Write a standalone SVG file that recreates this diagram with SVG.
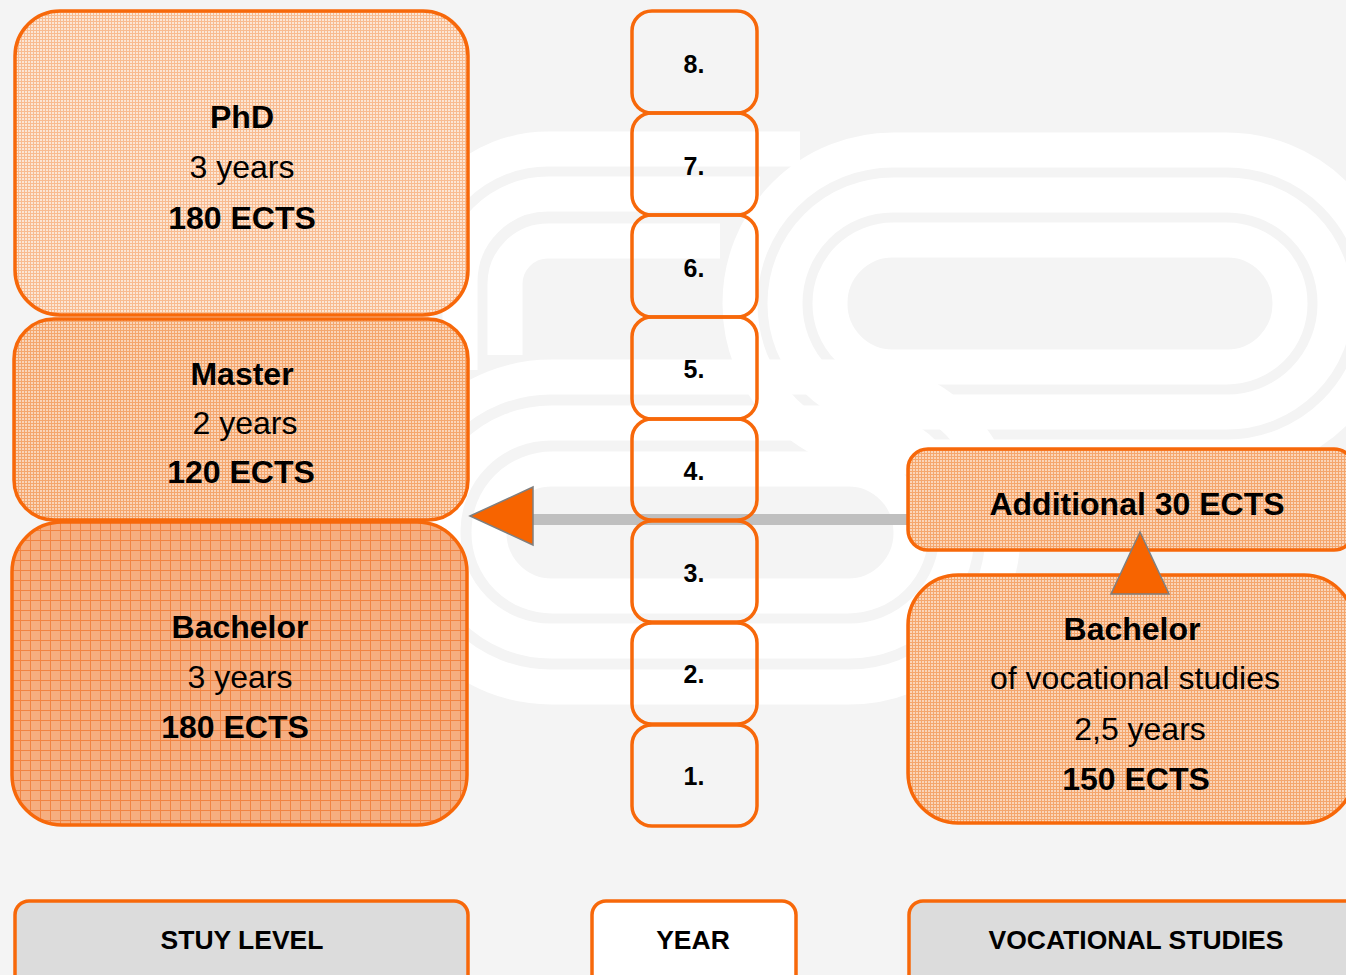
<svg xmlns="http://www.w3.org/2000/svg" width="1346" height="975" viewBox="0 0 1346 975">
<defs>
<style>
.wm{fill:none;stroke:#ffffff;stroke-width:35}
.box{stroke:#f7680a;stroke-width:3.5}
.yr{fill:none;stroke:#f7680a;stroke-width:3.5}
.t{font-family:"Liberation Sans",Arial,Helvetica,sans-serif;fill:#000;text-anchor:middle}
.b{font-weight:bold}
.big{font-size:32px}
.yl{font-size:25px;font-weight:bold}
.ft{font-size:26.5px;font-weight:bold}
.conn{stroke:#bfbfbf;stroke-width:11;fill:none}
.head{fill:#f76400;stroke:#7f7f7f;stroke-width:1.5;stroke-linejoin:miter}
</style>
<pattern id="pPhd" width="3" height="3" patternUnits="userSpaceOnUse"><rect width="3" height="3" fill="#fce4d2"/><path d="M0 0.5H3M0.5 0V3" stroke="#f8b585" stroke-width="1"/></pattern>
<pattern id="pMid" width="3" height="3" patternUnits="userSpaceOnUse"><rect width="3" height="3" fill="#fbd2b4"/><path d="M0 0.5H3M0.5 0V3" stroke="#f49f62" stroke-width="1"/></pattern>
<pattern id="pBach" width="10" height="10" patternUnits="userSpaceOnUse"><rect width="10" height="10" fill="#f6ae80"/><path d="M0 0.5H10M0.5 0V10" stroke="#f18443" stroke-width="1"/></pattern>
</defs>
<rect width="1346" height="975" fill="#f4f4f4"/>
<g id="watermark">
<rect class="wm" x="830" y="240" width="460" height="127" rx="63"/>
<rect class="wm" x="785" y="195" width="550" height="217" rx="108"/>
<rect class="wm" x="740" y="150" width="640" height="307" rx="153"/>
<path class="wm" d="M720 241H548A43 43 0 0 0 505 284V355"/>
<path class="wm" d="M760 194H548A88 88 0 0 0 460 282V370"/>
<path class="wm" d="M800 149H548A133 133 0 0 0 415 282V380"/>
<rect class="wm" x="489" y="469" width="422" height="127" rx="63"/>
<rect class="wm" x="443" y="423" width="514" height="218" rx="108"/>
<rect class="wm" x="397" y="377" width="606" height="310" rx="154"/>
</g>
<g id="connectors">
<line class="conn" x1="910" y1="519.5" x2="530" y2="519.5"/>
<polygon class="head" points="470,516 533,487 533,545"/>
</g>
<g id="phd">
<rect class="box" x="15" y="11" width="453" height="304" rx="45" fill="url(#pPhd)" fill-opacity="0.9"/>
<text class="t b big" x="242" y="128">PhD</text>
<text class="t big" x="242" y="178">3 years</text>
<text class="t b big" x="242" y="229">180 ECTS</text>
</g>
<g id="master">
<rect class="box" x="14" y="319" width="454" height="201" rx="40" fill="url(#pMid)" fill-opacity="0.92"/>
<text class="t b big" x="242" y="385">Master</text>
<text class="t big" x="245" y="434">2 years</text>
<text class="t b big" x="241" y="483">120 ECTS</text>
</g>
<g id="bachelor">
<rect class="box" x="12" y="522" width="455" height="303" rx="50" fill="url(#pBach)"/>
<text class="t b big" x="240" y="638">Bachelor</text>
<text class="t big" x="240" y="688">3 years</text>
<text class="t b big" x="235" y="738">180 ECTS</text>
</g>
<g id="years">
<rect class="yr" x="632" y="11" width="125" height="102" rx="20"/>
<text class="t yl" x="694" y="73">8.</text>
<rect class="yr" x="632" y="113" width="125" height="102" rx="20"/>
<text class="t yl" x="694" y="175">7.</text>
<rect class="yr" x="632" y="215" width="125" height="102" rx="20"/>
<text class="t yl" x="694" y="277">6.</text>
<rect class="yr" x="632" y="317" width="125" height="102" rx="20"/>
<text class="t yl" x="694" y="378">5.</text>
<rect class="yr" x="632" y="419" width="125" height="101" rx="20"/>
<text class="t yl" x="694" y="480">4.</text>
<rect class="yr" x="632" y="521" width="125" height="101" rx="20"/>
<text class="t yl" x="694" y="582">3.</text>
<rect class="yr" x="632" y="623" width="125" height="101" rx="20"/>
<text class="t yl" x="694" y="683">2.</text>
<rect class="yr" x="632" y="725" width="125" height="101" rx="20"/>
<text class="t yl" x="694" y="785">1.</text>
</g>
<g id="additional">
<rect class="box" x="908" y="449" width="446" height="101" rx="20" fill="url(#pMid)" fill-opacity="0.92"/>
<text class="t b big" x="1137" y="515">Additional 30 ECTS</text>
</g>
<g id="vocational">
<rect class="box" x="908" y="575" width="446" height="248" rx="50" fill="url(#pMid)" fill-opacity="0.92"/>
<text class="t b big" x="1132" y="640">Bachelor</text>
<text class="t big" x="1135" y="689">of vocational studies</text>
<text class="t big" x="1140" y="740">2,5 years</text>
<text class="t b big" x="1136" y="790">150 ECTS</text>
</g>
<g id="up-arrow">
<polygon class="head" points="1140,532 1111,594 1169,594"/>
</g>
<g id="footer-level">
<rect class="box" x="15" y="901" width="453" height="90" rx="14" fill="#dcdcdc"/>
<text class="t ft" x="242" y="949">STUY LEVEL</text>
</g>
<g id="footer-year">
<rect class="box" x="592" y="901" width="204" height="90" rx="14" fill="#ffffff"/>
<text class="t ft" x="693" y="949">YEAR</text>
</g>
<g id="footer-voc">
<rect class="box" x="909" y="901" width="450" height="90" rx="14" fill="#dcdcdc"/>
<text class="t ft" x="1136" y="949">VOCATIONAL STUDIES</text>
</g>
</svg>
